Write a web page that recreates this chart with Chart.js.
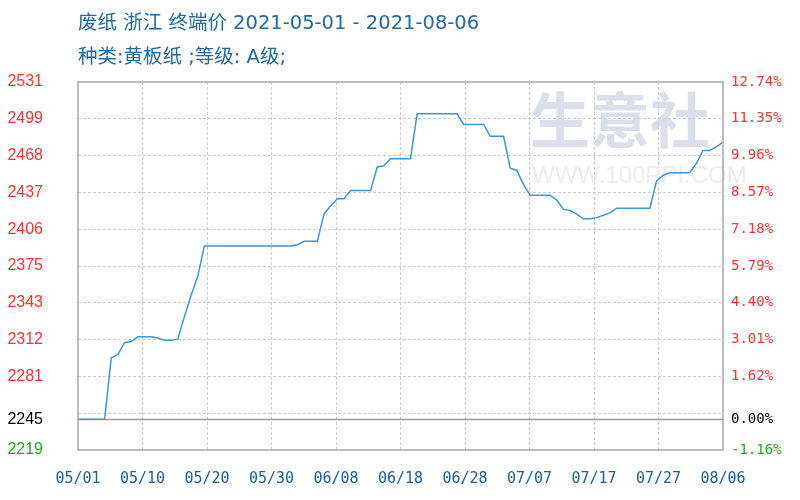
<!DOCTYPE html>
<html>
<head>
<meta charset="utf-8">
<script src="https://cdn.jsdelivr.net/npm/chart.js@4/dist/chart.umd.min.js"></script>
<style>
  html, body { margin: 0; padding: 0; background: #fff; }
  #wrap { width: 800px; height: 500px; position: relative; }
</style>
</head>
<body>
<div id="wrap"><canvas id="priceChart"></canvas></div>
<script>
// daily prices, 2021-05-01 .. 2021-08-06 (index 0 = 05/01)
const prices = [
  2245, 2245, 2245, 2245, 2245, 2297, 2300, 2310, 2311, 2315,
  2315, 2315, 2314, 2312, 2312, 2313, 2332, 2350, 2366, 2392,
  2392, 2392, 2392, 2392, 2392, 2392, 2392, 2392, 2392, 2392,
  2392, 2392, 2392, 2393, 2396, 2396, 2396, 2419, 2426, 2432,
  2432, 2439, 2439, 2439, 2439, 2459, 2460, 2466, 2466, 2466,
  2466, 2504, 2504, 2504, 2504, 2504, 2504, 2504, 2495, 2495,
  2495, 2495, 2485, 2485, 2485, 2458, 2456, 2444, 2435, 2435,
  2435, 2435, 2431, 2423, 2422, 2419, 2415, 2415, 2416, 2418,
  2420, 2424, 2424, 2424, 2424, 2424, 2424, 2447, 2452, 2454,
  2454, 2454, 2454, 2462, 2473, 2473, 2476, 2480
];
const xTickLabels = ['05/01', '05/10', '05/20', '05/30', '06/08', '06/18', '06/28', '07/07', '07/17', '07/27', '08/06'];
const baseValue = 2245;
const yTickValues = [2219, 2245, 2250.2, 2281.4, 2312.6, 2343.8, 2375.0, 2406.2, 2437.4, 2468.6, 2499.8, 2531.0];
const yTickLabels = ['2219', '2245', '', '2281', '2312', '2343', '2375', '2406', '2437', '2468', '2499', '2531'];
const pctTickLabels = ['-1.16%', '0.00%', '', '1.62%', '3.01%', '4.40%', '5.79%', '7.18%', '8.57%', '9.96%', '11.35%', '12.74%'];
const titleLines = ['废纸 浙江 终端价 2021-05-01 - 2021-08-06', '种类:黄板纸 ;等级: A级;'];

const tickColor = (v) => v > baseValue + 1 ? '#ff3030' : (v === baseValue ? '#000000' : '#22aa22');

const frame = {
  id: 'frame',
  beforeDatasetsDraw(chart) {
    const { ctx, chartArea: a } = chart;
    const y = chart.scales.y.getPixelForValue(baseValue);
    ctx.save();
    // faint watermark
    ctx.fillStyle = 'rgba(205,212,228,0.75)';
    ctx.font = 'bold 60px "Noto Sans CJK SC"';
    ctx.textBaseline = 'middle';
    ctx.fillText('生意社', 530, 120);
    ctx.fillStyle = '#ececec';
    ctx.font = '24px "Liberation Sans"';
    ctx.fillText('WWW.100PPI.COM', 532, 176);
    // base line
    ctx.strokeStyle = '#999999';
    ctx.lineWidth = 1.5;
    ctx.beginPath();
    ctx.moveTo(a.left, Math.round(y) + 0.5);
    ctx.lineTo(a.right, Math.round(y) + 0.5);
    ctx.stroke();
    ctx.restore();
  },
  afterDraw(chart) {
    const { ctx, chartArea: a } = chart;
    ctx.save();
    ctx.strokeStyle = '#a8a8a8';
    ctx.lineWidth = 1.5;
    ctx.strokeRect(a.left, a.top, a.right - a.left, a.bottom - a.top);
    ctx.fillStyle = '#1e6aa3';
    ctx.font = '19.5px "DejaVu Sans", "Noto Sans CJK SC"';
    ctx.textBaseline = 'middle';
    ctx.fillText(titleLines[0], 78, 24);
    ctx.fillText(titleLines[1], 78, 58);
    ctx.restore();
  }
};

const setYTicks = (scale) => {
  scale.ticks = yTickValues.map(v => ({ value: v }));
};

new Chart(document.getElementById('priceChart'), {
  type: 'line',
  data: {
    datasets: [{
      data: prices.map((v, i) => ({ x: i, y: v })),
      borderColor: '#3d97d6',
      borderWidth: 1.5,
      pointRadius: 0,
      tension: 0,
      fill: false
    }]
  },
  options: {
    responsive: true,
    maintainAspectRatio: false,
    animation: false,
    layout: { padding: { top: 82, bottom: 10 } },
    plugins: { legend: { display: false }, tooltip: { enabled: false } },
    scales: {
      x: {
        type: 'linear',
        min: 0,
        max: prices.length - 1,
        afterBuildTicks: (scale) => {
          scale.ticks = xTickLabels.map((l, k) => ({ value: k * (prices.length - 1) / (xTickLabels.length - 1) }));
        },
        afterFit: (scale) => { scale.height = 40; },
        grid: {
          color: (c) => (c.index === 0 || c.index === xTickLabels.length - 1) ? 'rgba(0,0,0,0)' : '#cccccc',
          drawTicks: false
        },
        border: { display: false, dash: [3, 2] },
        ticks: {
          autoSkip: false,
          maxRotation: 0,
          padding: 20,
          color: '#1a5f95',
          font: { family: 'DejaVu Sans Mono', size: 15 },
          callback: (v, idx) => xTickLabels[idx]
        }
      },
      y: {
        position: 'left',
        min: 2219,
        max: 2531,
        afterBuildTicks: setYTicks,
        afterFit: (scale) => { scale.width = 78; },
        grid: {
          color: (c) => {
            const v = c.tick.value;
            return (v === 2219 || v === baseValue || v === 2531.0) ? 'rgba(0,0,0,0)' : '#cccccc';
          },
          drawTicks: false
        },
        border: { display: false, dash: [3, 2] },
        ticks: {
          padding: 35,
          color: (c) => tickColor(c.tick.value),
          font: { family: 'Liberation Sans', size: 16 },
          callback: (v, idx) => yTickLabels[idx]
        }
      },
      y2: {
        position: 'right',
        min: 2219,
        max: 2531,
        afterBuildTicks: setYTicks,
        afterFit: (scale) => { scale.width = 77; },
        grid: { display: false, drawTicks: false },
        border: { display: false },
        ticks: {
          padding: 8,
          color: (c) => tickColor(c.tick.value),
          font: { family: 'DejaVu Sans Mono', size: 14 },
          callback: (v, idx) => pctTickLabels[idx]
        }
      }
    }
  },
  plugins: [frame]
});
</script>
</body>
</html>
